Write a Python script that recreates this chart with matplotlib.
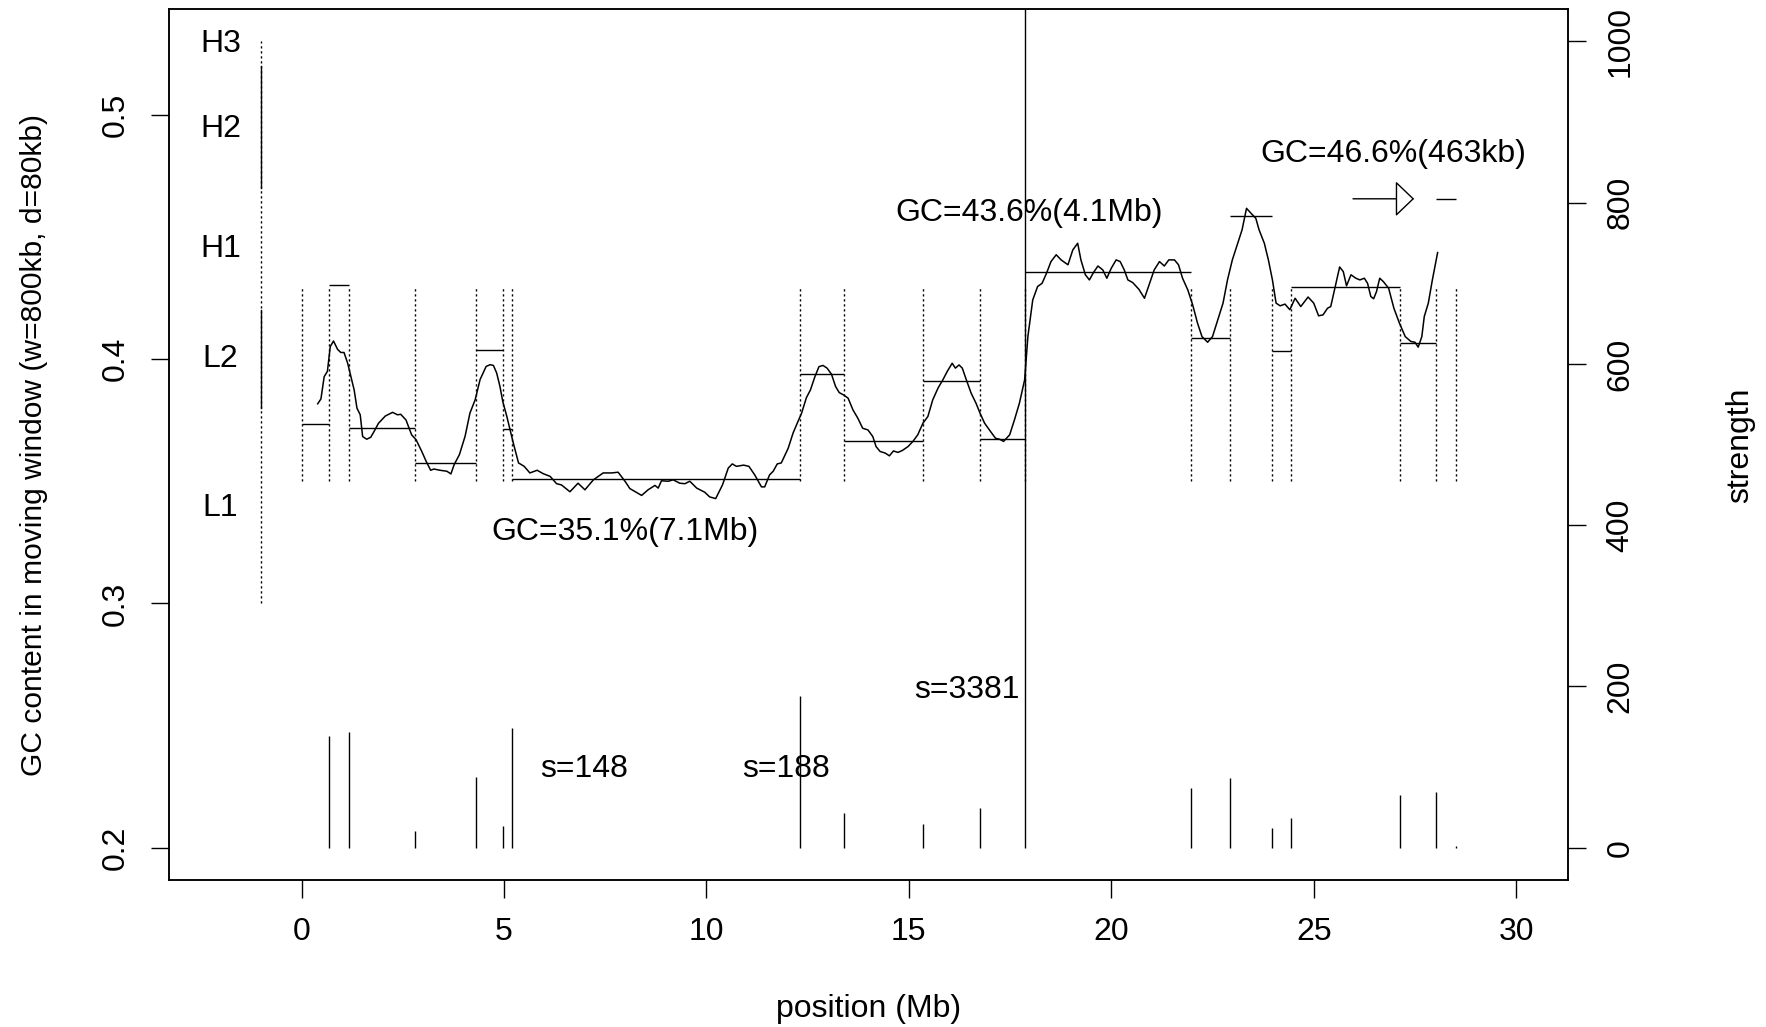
import matplotlib
matplotlib.use("Agg")
import matplotlib.pyplot as plt

plt.rcParams['font.family'] = ['Liberation Sans', 'DejaVu Sans']
FS = 23

# moving-window GC content (position in Mb, GC fraction)
gc_pos = [0.40, 0.48, 0.56, 0.64, 0.71, 0.79, 0.89, 0.97, 1.05, 1.14,
          1.22, 1.30, 1.37, 1.45, 1.51, 1.61, 1.71, 1.79, 1.90, 2.07,
          2.25, 2.37, 2.45, 2.58, 2.72, 2.83, 2.97, 3.08, 3.19, 3.27,
          3.42, 3.59, 3.69, 3.77, 3.90, 4.04, 4.16, 4.29, 4.41, 4.56,
          4.66, 4.74, 4.82, 4.90, 4.97, 5.07, 5.15, 5.23, 5.36, 5.50,
          5.64, 5.82, 5.97, 6.14, 6.30,
          6.42, 6.63, 6.83, 7.00, 7.21, 7.45, 7.66, 7.82, 7.99, 8.11,
          8.40, 8.56, 8.73, 8.81, 8.89, 9.06, 9.18, 9.34, 9.47, 9.59,
          9.76, 9.96, 10.08, 10.23, 10.40, 10.54, 10.64, 10.74, 10.92, 11.05,
          11.19, 11.36, 11.44, 11.56, 11.65, 11.75, 11.85,
          12.02, 12.14, 12.26, 12.35, 12.47, 12.57, 12.68, 12.78, 12.88, 12.98,
          13.09, 13.19, 13.28, 13.39, 13.50, 13.62, 13.74, 13.86, 13.99, 14.11,
          14.19, 14.29, 14.42, 14.52, 14.62, 14.73, 14.84, 14.98, 15.10, 15.22,
          15.35, 15.47, 15.59, 15.72, 15.84, 15.95, 16.07, 16.15, 16.24, 16.32,
          16.42, 16.54, 16.66, 16.76, 16.87, 16.99, 17.14, 17.24, 17.34, 17.49,
          17.61, 17.73, 17.86,
          17.94, 18.06, 18.18, 18.29, 18.40, 18.51, 18.64, 18.76, 18.93, 19.05,
          19.17, 19.25, 19.36, 19.46, 19.56, 19.67, 19.79, 19.89, 20.00, 20.12,
          20.22, 20.32, 20.41, 20.53, 20.68, 20.82, 20.92, 21.06, 21.19, 21.31,
          21.42, 21.56, 21.66, 21.76, 21.89, 22.01, 22.13, 22.24, 22.38, 22.50,
          22.63, 22.76, 22.87, 22.99, 23.11, 23.23, 23.34, 23.45, 23.57,
          23.65, 23.78, 23.88, 23.98, 24.07, 24.17, 24.29, 24.41, 24.54, 24.68,
          24.86, 25.00, 25.12, 25.23, 25.34, 25.42, 25.53, 25.64, 25.73, 25.81,
          25.92, 26.04, 26.14, 26.25, 26.33, 26.41, 26.48, 26.55, 26.63, 26.72,
          26.85, 26.98, 27.11, 27.26, 27.40, 27.50, 27.58, 27.67, 27.73, 27.83,
          27.93, 28.06]
gc_val = [.3817, .3837, .3928, .3950, .4051, .4074, .4040, .4027, .4027, .3983,
          .3928, .3874, .3799, .3772, .3683, .3672, .3680, .3703, .3737, .3767,
          .3782, .3772, .3774, .3751, .3690, .3670, .3622, .3581, .3545, .3550,
          .3545, .3541, .3530, .3568, .3609, .3684, .3779, .3834, .3916, .3970,
          .3977, .3974, .3943, .3889, .3827, .3766, .3711, .3657, .3575, .3561,
          .3534, .3545, .3531, .3520, .3490,
          .3485, .3457, .3492, .3465, .3506, .3534, .3534, .3537, .3500, .3470,
          .3442, .3465, .3483, .3472, .3502, .3500, .3506, .3492, .3490, .3500,
          .3472, .3455, .3436, .3429, .3486, .3554, .3571, .3561, .3566, .3561,
          .3527, .3477, .3477, .3526, .3541, .3571, .3575,
          .3635, .3697, .3744, .3778, .3842, .3874, .3928, .3969, .3974, .3963,
          .3938, .3888, .3863, .3853, .3840, .3792, .3758, .3717, .3710, .3683,
          .3642, .3622, .3615, .3604, .3624, .3618, .3626, .3642, .3663, .3690,
          .3738, .3765, .3833, .3881, .3915, .3950, .3983, .3963, .3976, .3963,
          .3915, .3860, .3819, .3778, .3738, .3710, .3676, .3672, .3663, .3690,
          .3752, .3819, .3915,
          .4092, .4242, .4297, .4310, .4351, .4399, .4427, .4406, .4386, .4447,
          .4474, .4406, .4345, .4324, .4354, .4381, .4365, .4331, .4372, .4406,
          .4399, .4365, .4324, .4313, .4286, .4249, .4297, .4365, .4399, .4381,
          .4406, .4406, .4386, .4331, .4283, .4222, .4147, .4092, .4069, .4092,
          .4160, .4229, .4324, .4406, .4467, .4529, .4617, .4597, .4576,
          .4529, .4474, .4406, .4324, .4229, .4218, .4225, .4202, .4249, .4215,
          .4254, .4229, .4177, .4181, .4208, .4215, .4297, .4377, .4358, .4300,
          .4345, .4331, .4324, .4331, .4310, .4256, .4247, .4276, .4331, .4317,
          .4290, .4208, .4150, .4092, .4072, .4069, .4049, .4092, .4174, .4229,
          .4324, .4436]

# segmentation: boundaries (Mb), mean GC of each segment, boundary strength
bounds = [0, 0.68, 1.17, 2.81, 4.30, 4.97, 5.21, 12.30, 13.39, 15.35,
          16.76, 17.88, 21.98, 22.92, 23.97, 24.44, 27.13, 28.03, 28.52]
seg_gc = [0.3734, 0.4302, 0.3719, 0.3574, 0.4036, 0.3713, 0.3509, 0.3938, 0.3663,
          0.3910, 0.3674, 0.4357, 0.4085, 0.4587, 0.4034, 0.4296, 0.4067, 0.4656]
strength = [138, 144, 21, 88, 27, 148, 188, 43, 30, 49, 3381,
            74, 87, 25, 37, 66, 69, 2]

# isochore classes on the left
class_names = ["H3", "H2", "H1", "L2", "L1"]
class_y = [0.529, 0.494, 0.445, 0.400, 0.339]
class_span = (0.30, 0.53)
class_solid = [(0.47, 0.52), (0.38, 0.42)]

gc_labels = ["GC=35.1%(7.1Mb)", "GC=43.6%(4.1Mb)", "GC=46.6%(463kb)"]
gc_label_x = [8.0, 17.97, 26.97]
gc_label_y = [0.3294, 0.4599, 0.4838]
s_labels = ["s=148", "s=188", "s=3381"]
s_label_x = [6.99, 11.97, 16.44]
s_label_y = [98, 98, 196]

W, H = 1766, 1027
fig = plt.figure(figsize=(W / 100, H / 100), dpi=100)
L, R, T, B = 168.7, 1568, 9.2, 880
ax = fig.add_axes([L / W, 1 - B / H, (R - L) / W, (B - T) / H])
ax.set_xlim(-3.28, 31.28)
ax.set_ylim(0.1868, 0.5432)

dot = (0, (1.6, 2.0))
# class marks at x=-1
ax.plot([-1, -1], class_span, color="black", lw=1, ls=dot)
for lo, hi in class_solid:
    ax.plot([-1, -1], [lo, hi], color="black", lw=1)
for name, y in zip(class_names, class_y):
    ax.text(-2.0, y, name, ha="center", va="center", fontsize=FS)

# boundaries and segment means
ax.vlines(bounds, 0.35, 0.43, colors="black", lw=1, linestyles=dot)
ax.hlines(seg_gc, bounds[:-1], bounds[1:], colors="black", lw=1)
ax.plot(gc_pos, gc_val, color="black", lw=1.1)

for t, x, y in zip(gc_labels, gc_label_x, gc_label_y):
    ax.text(x, y, t, ha="center", va="center", fontsize=FS)
ax.annotate("", xy=(27.48, seg_gc[-1]), xytext=(25.97, seg_gc[-1]),
            arrowprops=dict(arrowstyle="-|>,head_length=1.2,head_width=1.15",
                            mutation_scale=10, fc="white", ec="black", lw=1,
                            shrinkA=0, shrinkB=0))

ax.set_yticks([0.2, 0.3, 0.4, 0.5])
ax.set_yticklabels(["0.2", "0.3", "0.4", "0.5"], rotation=90, va="center")
ax.set_xticks([0, 5, 10, 15, 20, 25, 30])
ax.tick_params(labelsize=FS, length=13, width=1, direction="out")
ax.tick_params(axis="y", pad=14)
ax.tick_params(axis="x", pad=14)

# strength on the right axis
ax2 = ax.twinx()
ax2.set_ylim(-40, 1040)
ax2.vlines(bounds[1:], 0, strength, colors="black", lw=1)
for t, x, y in zip(s_labels, s_label_x, s_label_y):
    ax2.text(x, y, t, ha="center", va="center", fontsize=FS)
ax2.set_yticks([0, 200, 400, 600, 800, 1000])
ax2.set_yticklabels(["0", "200", "400", "600", "800", "1000"], rotation=90, va="center")
ax2.tick_params(labelsize=FS, length=13, width=1, direction="out", pad=14)

for a in (ax, ax2):
    for s in a.spines.values():
        s.set_linewidth(1.1)

fig.text(34 / W, 1 - 445 / H, "GC content in moving window (w=800kb, d=80kb)",
         rotation=90, ha="center", va="center", fontsize=21.6)
fig.text(1740 / W, 1 - 445 / H, "strength", rotation=90,
         ha="center", va="center", fontsize=FS)
fig.text((L + R) / 2 / W, 1 - 1009 / H, "position (Mb)",
         ha="center", va="center", fontsize=FS)

plt.savefig("out.png", dpi=100)
